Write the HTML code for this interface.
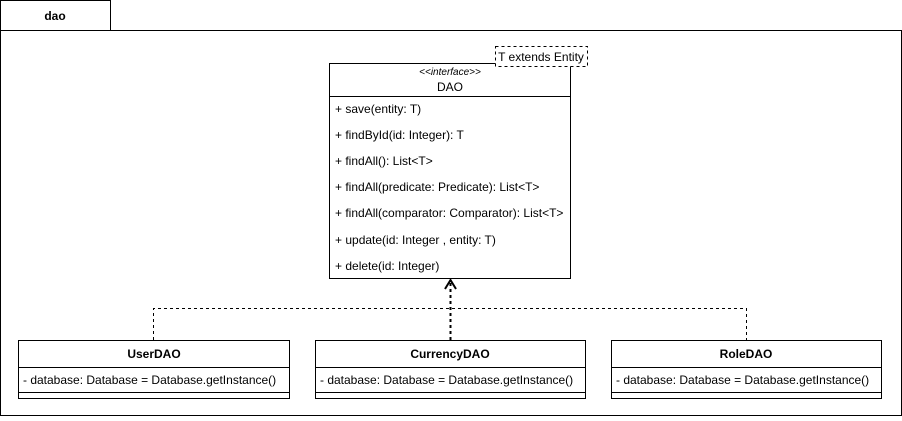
<!DOCTYPE html>
<html><head><style>
body{margin:0;width:902px;height:416px;background:#fff;overflow:hidden}
svg{font-family:"Liberation Sans",Arial,sans-serif}
</style></head><body>
<svg width="902" height="416" viewBox="0 0 902 416">
<g fill="none" stroke="#000" stroke-width="1">
<rect x="0.5" y="0.5" width="110" height="30" fill="#fff"/>
<rect x="0.5" y="30.5" width="901" height="385" fill="#fff"/>
<rect x="329.5" y="63.5" width="241" height="215" fill="#fff"/>
<line x1="329.5" y1="96.5" x2="570.5" y2="96.5"/>
<rect x="495.5" y="46.5" width="92" height="20" fill="#fff" stroke-dasharray="3 3"/>
<path d="M153.5 340 V308.5 H746.5 V340" stroke-dasharray="3 3"/>
<path d="M450.5 340 V282" stroke-dasharray="3 3" stroke-width="2"/>
<path d="M445 289 L450.5 280 L456 289" stroke-width="2"/>
<rect x="18.5" y="340.5" width="271" height="58" fill="#fff"/>
<line x1="18.5" y1="367.5" x2="289.5" y2="367.5"/>
<line x1="18.5" y1="392.5" x2="289.5" y2="392.5"/>
<rect x="315.5" y="340.5" width="270" height="58" fill="#fff"/>
<line x1="315.5" y1="367.5" x2="585.5" y2="367.5"/>
<line x1="315.5" y1="392.5" x2="585.5" y2="392.5"/>
<rect x="611.5" y="340.5" width="270" height="58" fill="#fff"/>
<line x1="611.5" y1="367.5" x2="881.5" y2="367.5"/>
<line x1="611.5" y1="392.5" x2="881.5" y2="392.5"/>
</g>
<g font-size="12" fill="#000">
<text x="55" y="20" text-anchor="middle" font-weight="bold" font-size="12">dao</text>
<text x="541" y="61" text-anchor="middle">T extends Entity</text>
<text x="450" y="75" text-anchor="middle" font-style="italic" font-size="10">&lt;&lt;interface&gt;&gt;</text>
<text x="450" y="91" text-anchor="middle" font-size="12">DAO</text>
<text x="335" y="113">+ save(entity: T)</text>
<text x="335" y="139">+ findById(id: Integer): T</text>
<text x="335" y="165">+ findAll(): List&lt;T&gt;</text>
<text x="335" y="191">+ findAll(predicate: Predicate): List&lt;T&gt;</text>
<text x="335" y="217">+ findAll(comparator: Comparator): List&lt;T&gt;</text>
<text x="335" y="244">+ update(id: Integer , entity: T)</text>
<text x="335" y="270">+ delete(id: Integer)</text>
<text x="154" y="358" text-anchor="middle" font-weight="bold">UserDAO</text>
<text x="23" y="384">- database: Database = Database.getInstance()</text>
<text x="450" y="358" text-anchor="middle" font-weight="bold">CurrencyDAO</text>
<text x="320" y="384">- database: Database = Database.getInstance()</text>
<text x="746" y="358" text-anchor="middle" font-weight="bold">RoleDAO</text>
<text x="616" y="384">- database: Database = Database.getInstance()</text>
</g>
</svg>
</body></html>
